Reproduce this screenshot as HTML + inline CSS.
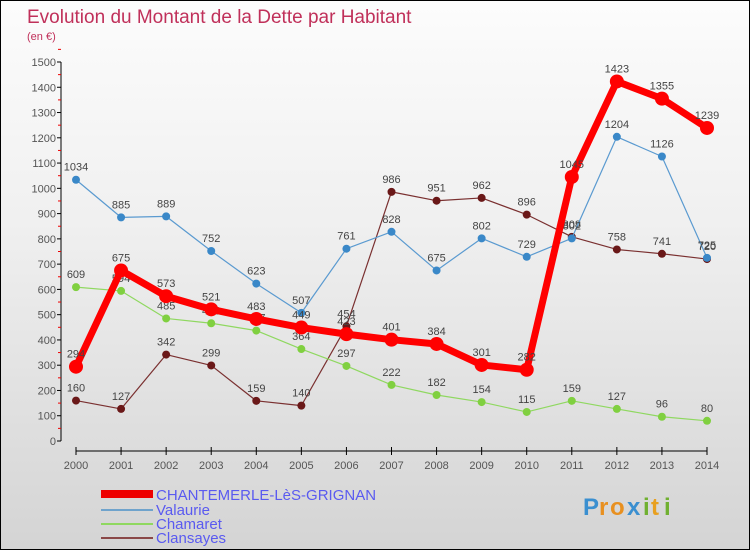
<!DOCTYPE html>
<html><head><meta charset="utf-8"><style>
body{margin:0}
#c{width:748px;height:548px;border:1px solid #000;background:linear-gradient(#fcfcfc,#f0f0f0 40%,#d4d4d4);position:relative;font-family:"Liberation Sans",sans-serif}
svg text{font-family:"Liberation Sans",sans-serif}
</style></head><body>
<div id="c">
<svg id="s" width="748" height="548">
<text x="26" y="22" font-size="19" fill="#c0305a">Evolution du Montant de la Dette par Habitant</text>
<text x="26" y="39" font-size="11" fill="#c0305a">(en €)</text>
<g id="ax"></g><g id="series"></g>
<g>
<line x1="100" y1="493" x2="152" y2="493" stroke="#e00" stroke-width="8"/>
<text x="155" y="499" font-size="15" fill="#5a5af0">CHANTEMERLE-LèS-GRIGNAN</text>
<line x1="100" y1="509" x2="152" y2="509" stroke="#6fa3cc" stroke-width="2"/>
<text x="155" y="514" font-size="15" fill="#5a5af0">Valaurie</text>
<line x1="100" y1="523" x2="152" y2="523" stroke="#8fd860" stroke-width="2"/>
<text x="155" y="528" font-size="15" fill="#5a5af0">Chamaret</text>
<line x1="100" y1="537" x2="152" y2="537" stroke="#8a4848" stroke-width="2"/>
<text x="155" y="542" font-size="15" fill="#5a5af0">Clansayes</text>
</g>
<g font-size="24" font-weight="bold">
<text x="582" y="514" fill="#3a8fd0">P</text><text x="598" y="514" fill="#e89020">r</text><text x="609" y="514" fill="#e89020">o</text><text x="626" y="514" fill="#3a8fd0">x</text><text x="642" y="514" fill="#70b030">i</text><text x="650" y="514" fill="#e8a020">t</text><text x="663" y="514" fill="#70b030">i</text>
</g>
</svg></div>
<script>
const years=[2000,2001,2002,2003,2004,2005,2006,2007,2008,2009,2010,2011,2012,2013,2014];
const chantemerle=[294,675,573,521,483,449,423,401,384,301,282,1045,1423,1355,1239];
const valaurie=[1034,885,889,752,623,507,761,828,675,802,729,802,1204,1126,725];
const chamaret=[609,594,485,466,437,364,297,222,182,154,115,159,127,96,80];
const clansayes=[160,127,342,299,159,140,454,986,951,962,896,808,758,741,720];
const yTicks=[0,100,200,300,400,500,600,700,800,900,1000,1100,1200,1300,1400,1500];
const NS='http://www.w3.org/2000/svg';
const X=i=>75+i*(631/14), Y=v=>440-v*379/1500;
function mk(t,a,p){const e=document.createElementNS(NS,t);for(const k in a)e.setAttribute(k,a[k]);p.appendChild(e);return e;}
const ax=document.getElementById('ax');
const yl=mk('line',{x1:60,y1:Y(1500),x2:60,y2:440,stroke:'#000'},ax);


yTicks.forEach(v=>{mk('line',{x1:56,y1:Y(v),x2:60,y2:Y(v),stroke:'#000'},ax);
 mk('line',{x1:57,y1:Y(v+50),x2:60,y2:Y(v+50),stroke:'#e00'},ax);
 const t=mk('text',{x:55,y:Y(v)+4,'font-size':11,fill:'#555','text-anchor':'end'},ax);t.textContent=v;
 
 });
const xl=mk('line',{x1:X(0),y1:450,x2:X(14),y2:450,stroke:'#000'},ax);


years.forEach((y,i)=>{mk('line',{x1:X(i),y1:446,x2:X(i),y2:454,stroke:'#000'},ax);
 const t=mk('text',{x:X(i),y:468,'font-size':11,fill:'#555','text-anchor':'middle'},ax);t.textContent=y;
 
 });
const sg=document.getElementById('series');
function draw(d,name,color,w,r,dot){const g=mk('g',{},sg);
 
 
 mk('polyline',{points:d.map((v,i)=>X(i)+','+Y(v)).join(' '),fill:'none',stroke:color,'stroke-width':w,'stroke-linejoin':'round'},g);
 d.forEach((v,i)=>{const c=mk('circle',{cx:X(i),cy:Y(v),r:r,fill:dot},g);
  
  
  const t=mk('text',{x:X(i),y:Y(v)-9,'font-size':11,fill:'#444','text-anchor':'middle'},g);t.textContent=v;});}
draw(clansayes,'series-clansayes','#7a3030',1.2,4,'#6a1818');
draw(chamaret,'series-chamaret','#8fd860',1.2,4,'#80d040');
draw(valaurie,'series-valaurie','#5a9ad0',1.2,4,'#3a88c8');
draw(chantemerle,'series-chantemerle','#f00',7,7,'#f00');
</script>
</body></html>
